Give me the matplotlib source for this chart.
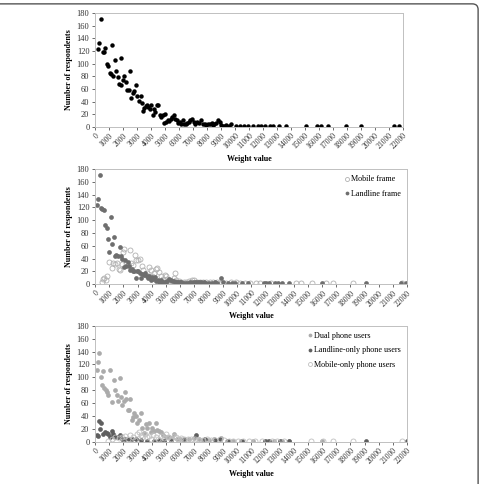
import numpy as np
import matplotlib
matplotlib.use("Agg")
import matplotlib.pyplot as plt
from matplotlib.patches import FancyBboxPatch

plt.rcParams["font.family"] = ["Liberation Serif", "DejaVu Serif"]

# panel 1: all respondents (weight value, number of respondents)
all_w = [238, 309, 428, 547, 642, 737, 832, 951, 1046, 1165, 1213, 1308, 1403, 1522, 1641,
         1712, 1831, 1879, 2021, 2093, 2212, 2307, 2402, 2521, 2568, 2711, 2782, 2901, 3020,
         3139, 3258, 3353, 3424, 3520, 3615, 3710, 3805, 3924, 4019, 4114, 4185, 4304, 4423,
         4518, 4613, 4709, 4828, 4899, 4994, 5089, 5208, 5303, 5422, 5517, 5636, 5731, 5850,
         5945, 6064, 6159, 6278, 6373, 6492, 6587, 6706, 6825, 6920, 7063, 7182, 7325, 7443,
         7586, 7729, 7848, 7967, 8086, 8228, 8347, 8442, 8537, 8680, 8799, 8942, 9037, 9156,
         9275, 9394, 9584, 9750, 10107, 10345, 10630, 10939, 11296, 11653, 11891, 12176,
         12533, 12723, 13151, 13627, 15100, 15862, 16171, 16647, 17955, 19025, 21403, 21760]
all_n = [123, 133, 170, 119, 118, 124, 99, 97, 85, 84, 129, 81, 106, 89, 79,
         68, 109, 66, 74, 80, 71, 59, 58, 88, 46, 53, 56, 66, 48,
         41, 48, 38, 25, 29, 33, 35, 31, 28, 34, 19, 28, 24, 34,
         34, 19, 16, 19, 6, 20, 7, 10, 9, 12, 15, 19, 12, 10,
         6, 8, 5, 10, 4, 5, 6, 8, 10, 12, 8, 5, 7, 6,
         10, 4, 4, 3, 5, 4, 6, 3, 4, 6, 10, 7, 3, 2,
         2, 3, 2, 4, 2, 2, 2, 2, 2, 2, 2, 2,
         2, 2, 2, 2, 2, 2, 2, 2, 2, 2, 2, 2]

# panel 2: by sampling frame
land_w = [119, 238, 333, 428, 523, 618, 736, 831, 926, 1021, 1116, 1211, 1306, 1401, 1496,
          1615, 1734, 1805, 1900, 2019, 2114, 2209, 2328, 2399, 2494, 2589, 2684, 2779, 2898,
          2969, 3064, 3159, 3254, 3325, 3420, 3539, 3634, 3729, 3824, 3919, 4014, 4109, 4228,
          4323, 4418, 4513, 4632, 4727, 4822, 4917, 5012, 5107, 5226, 5344, 5439, 5534, 5629,
          5748, 5843, 5962, 6057, 6152, 6295, 6437, 6580, 6722, 6888, 7031, 7173, 7316, 7482,
          7648, 7815, 8029, 8242, 8432, 8622, 8860, 9050, 9382, 9620, 9857, 10333, 10760,
          11876, 12067, 12233, 12708, 12898, 13183, 13658, 15986, 19121, 21544, 21900]
land_n = [124, 133, 170, 119, 117, 116, 93, 88, 71, 50, 105, 63, 74, 44, 45,
          44, 58, 44, 39, 27, 37, 29, 35, 28, 22, 23, 21, 21, 10,
          21, 20, 17, 9, 16, 14, 18, 12, 9, 13, 7, 11, 8, 11,
          5, 7, 4, 7, 4, 3, 4, 4, 5, 8, 7, 5, 5, 4,
          3, 4, 3, 3, 2, 2, 2, 2, 3, 4, 4, 3, 3, 3,
          4, 2, 2, 2, 3, 2, 9, 3, 2, 2, 2, 2, 2,
          2, 2, 2, 2, 2, 2, 2, 2, 2, 2, 2]
mob_w = [475, 546, 641, 760, 879, 1021, 1164, 1283, 1425, 1568, 1687, 1781, 1876, 1971, 2043,
         2162, 2304, 2447, 2566, 2708, 2803, 2922, 3017, 3159, 3302, 3397, 3563, 3682, 3800,
         3919, 4038, 4157, 4299, 4394, 4513, 4632, 4774, 4917, 5012, 5107, 5249, 5392, 5534,
         5629, 5725, 5914, 6057, 6247, 6437, 6651, 6841, 7007, 7197, 7387, 7601, 7838, 8076,
         8313, 8622, 8907, 9216, 9572, 9952, 10214, 10570, 10926, 11330, 11639, 12423, 14133,
         14489, 15273, 16271, 16746, 18171, 21663]
mob_n = [4, 8, 10, 6, 12, 34, 25, 33, 31, 33, 23, 22, 32, 50, 55,
         33, 30, 54, 33, 30, 46, 37, 38, 39, 28, 22, 15, 17, 26,
         22, 12, 17, 23, 25, 19, 13, 8, 15, 12, 8, 6, 4, 9,
         17, 7, 5, 4, 3, 4, 5, 7, 6, 4, 4, 4, 4, 3,
         4, 4, 2, 2, 3, 3, 2, 2, 2, 2, 2, 2, 2,
         2, 2, 2, 2, 2, 2]

# panel 3: by phone status
dual_w = [119, 238, 309, 404, 499, 594, 665, 760, 855, 950, 1045, 1164, 1306, 1401, 1520,
          1639, 1734, 1829, 1924, 2019, 2114, 2209, 2304, 2399, 2494, 2613, 2684, 2779, 2874,
          2969, 3088, 3207, 3326, 3445, 3564, 3682, 3800, 3919, 4038, 4157, 4299, 4400, 4520,
          4640, 4800, 5000, 5200, 5400, 5600, 5800, 6000, 6300, 6600, 7000, 7300, 7600, 8000,
          8400, 8900, 9300, 9700, 10300, 11100, 12100, 12600, 13200, 13700, 16000]
dual_n = [112, 124, 137, 100, 88, 110, 83, 80, 78, 73, 112, 62, 96, 80, 72,
          64, 99, 70, 57, 64, 78, 67, 50, 49, 67, 34, 39, 45, 40,
          30, 34, 44, 21, 14, 27, 22, 29, 16, 21, 17, 29, 19, 17,
          15, 10, 8, 7, 6, 12, 5, 4, 5, 4, 6, 4, 3, 3,
          4, 6, 2, 2, 2, 2, 2, 2, 2, 2, 2]
lonly_w = [119, 238, 309, 380, 428, 594, 713, 832, 950, 1069, 1164, 1260, 1354, 1500, 1590,
           1780, 1924, 2140, 2378, 2613, 2922, 3207, 3682, 4157, 4518, 4875, 5350, 6300, 7130,
           7720, 8440, 8840, 9382, 10333, 12000, 12233, 13060, 13658, 19121, 21960]
lonly_n = [10, 9, 32, 20, 30, 12, 16, 14, 12, 8, 17, 12, 9, 7, 8,
           10, 5, 5, 4, 5, 4, 3, 2, 2, 3, 2, 2, 3, 10,
           5, 3, 5, 2, 2, 2, 2, 2, 2, 2, 2]
monly_w = [950, 1190, 1425, 1660, 1900, 2140, 2304, 2494, 2684, 2850, 2969, 3088, 3207, 3326,
           3492, 3634, 3800, 3919, 4114, 4280, 4447, 4632, 4828, 5000, 5160, 5350, 5534, 5700,
           5870, 6060, 6300, 6530, 6770, 7060, 7300, 7600, 7890, 8200, 8490, 8800, 9100, 9430,
           9750, 10100, 10460, 10820, 11300, 11770, 12480, 12830, 13300, 15220, 16050, 16750,
           18170, 21650]
monly_n = [2, 5, 7, 6, 8, 9, 5, 10, 7, 3, 12, 16, 10, 8,
           12, 7, 9, 5, 10, 8, 5, 9, 6, 13, 8, 5, 9, 7,
           5, 6, 4, 5, 4, 4, 3, 3, 4, 3, 3, 4, 3, 2,
           2, 2, 2, 2, 2, 2, 2, 2, 2, 2, 2, 2,
           2, 2]

xticks = np.arange(0, 22001, 1000)
yticks = np.arange(0, 181, 20)

fig = plt.figure(figsize=(4.81, 4.84), dpi=100)

# page frame line (top and right, rounded corner)
frame = FancyBboxPatch((-0.05, -0.05), 1.044, 1.042, boxstyle="round,pad=0,rounding_size=0.012",
                       transform=fig.transFigure, fill=False, edgecolor="#555555", lw=1.0)
fig.patches.append(frame)

ax1 = fig.add_axes([0.1975, 0.738, 0.640, 0.235])
ax2 = fig.add_axes([0.1975, 0.413, 0.649, 0.238])
ax3 = fig.add_axes([0.1975, 0.087, 0.649, 0.240])

ax1.plot(all_w, all_n, "o", color="black", ms=3.2, mew=0)

ax2.plot(mob_w, mob_n, "o", mfc="none", mec="#b0b0b0", ms=3.6, mew=0.6, label="Mobile frame")
ax2.plot(land_w, land_n, "o", color="#6e6e6e", ms=3.4, mew=0, label="Landline frame")

ax3.plot(dual_w, dual_n, "o", color="#ababab", ms=3.4, mew=0, label="Dual phone users")
ax3.plot(lonly_w, lonly_n, "o", color="#5f5f5f", ms=3.4, mew=0, label="Landline-only phone users")
ax3.plot(monly_w, monly_n, "o", mfc="none", mec="#c0c0c0", ms=3.6, mew=0.6, label="Mobile-only phone users")

for ax in (ax1, ax2, ax3):
    ax.set_xlim(0, 22000)
    ax.set_ylim(0, 180)
    ax.set_xticks(xticks)
    ax.set_xticklabels([str(t) for t in xticks], rotation=45, ha="right",
                       rotation_mode="anchor", fontsize=5.6, color="#333333")
    ax.set_yticks(yticks)
    ax.tick_params(axis="y", labelsize=6, colors="#333333", length=2, width=0.5, pad=2)
    ax.tick_params(axis="x", length=2, width=0.5, pad=1.5, colors="#333333")
    for sp in ax.spines.values():
        sp.set_color("#c0c0c0")
        sp.set_linewidth(0.7)
    ax.set_ylabel("Number of respondents", fontsize=5.8, fontweight="bold", labelpad=3)
    ax.set_xlabel("Weight value", fontsize=5.8, fontweight="bold", labelpad=3)

leg_kw = dict(loc="upper right", frameon=False, fontsize=5.9, handletextpad=0.05,
              markerscale=0.8, handlelength=0.8, borderaxespad=0.4, labelspacing=0.75)
ax2.legend(**leg_kw)
ax3.legend(**leg_kw)

fig.savefig("out.png", dpi=100)
